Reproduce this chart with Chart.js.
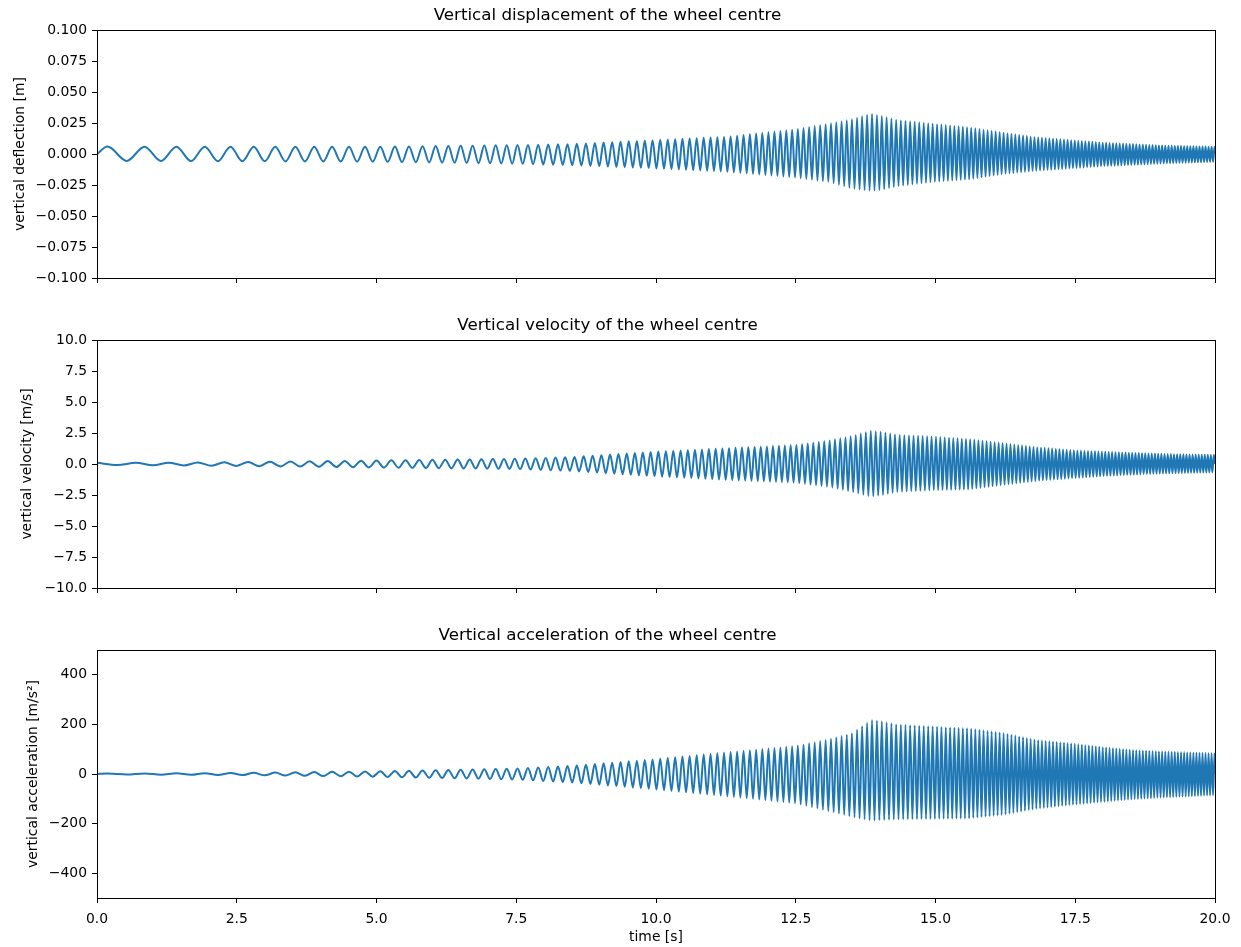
<!DOCTYPE html>
<html>
<head>
<meta charset="utf-8">
<title>Wheel centre response</title>
<script src="https://cdn.jsdelivr.net/npm/chart.js@4.4.1/dist/chart.umd.min.js"></script>
<style>
  body { margin: 0; background: #fff; }
  #wrap { position: relative; width: 1241px; height: 947px; }
  canvas { position: absolute; left: 0; }
</style>
</head>
<body>
<div id="wrap">
  <canvas id="dispChart" width="1241" height="300" style="top:0px"></canvas>
  <canvas id="velChart" width="1241" height="300" style="top:310px"></canvas>
  <canvas id="accChart" width="1241" height="327" style="top:620px"></canvas>
</div>
<script>
// Envelope of the oscillation at these times [s]
const envTimes  = [0, 0.3, 2.5, 5, 7.5, 8.5, 10, 11.3, 12.5, 13.1, 13.5, 13.85, 14.05, 14.3, 15, 15.6, 16.2, 16.8, 17.4, 18, 18.5, 19.1, 20];

// displacement [m]
const dispUpper = [0.006, 0.006, 0.0058, 0.0058, 0.0072, 0.0080, 0.0113, 0.0140, 0.0200, 0.0245, 0.0280, 0.0325, 0.0305, 0.0275, 0.0242, 0.0215, 0.0172, 0.0134, 0.0113, 0.0091, 0.0081, 0.0067, 0.0058];
const dispLower = [-0.0055, -0.0055, -0.0058, -0.0062, -0.0078, -0.0090, -0.0116, -0.0143, -0.0190, -0.0225, -0.0277, -0.0298, -0.0288, -0.0260, -0.0223, -0.0204, -0.0161, -0.0134, -0.0116, -0.0097, -0.0089, -0.0075, -0.0062];

// velocity [m/s]
const velUpper = [0.1, 0.08, 0.15, 0.28, 0.42, 0.56, 1.0, 1.28, 1.53, 1.9, 2.26, 2.69, 2.58, 2.36, 2.2, 2.0, 1.67, 1.35, 1.13, 0.99, 0.91, 0.81, 0.73];
const velLower = [-0.05, -0.08, -0.15, -0.28, -0.40, -0.56, -1.0, -1.28, -1.5, -1.85, -2.23, -2.63, -2.5, -2.25, -2.1, -2.04, -1.69, -1.35, -1.16, -0.97, -0.86, -0.75, -0.67];

// acceleration [m/s^2]
const accUpper = [1, 2, 4, 11, 22, 33, 60, 88, 113, 140, 164, 218, 212, 200, 191, 184, 166, 137, 124, 108, 97, 90, 83];
const accLower = [-1, -2, -4, -11, -22, -34, -62, -90, -118, -150, -172, -188, -186, -183, -181, -179, -165, -140, -125, -112, -102, -94, -85];

// oscillation rate [Hz] read from the spacing of the peaks
const freqTimes  = [0, 1, 2, 3, 4, 5, 6, 7, 8, 9, 10, 11, 12, 13, 14, 15, 16, 17, 18, 19, 20];
const freqValues = [1.3, 1.7, 2.1, 2.6, 3.1, 3.7, 4.3, 4.9, 5.6, 6.4, 7.3, 8.2, 9.2, 10.3, 11.5, 12.7, 13.9, 15.1, 16.3, 17.5, 18.7];

// tick positions
const xTicks    = [0, 2.5, 5, 7.5, 10, 12.5, 15, 17.5, 20];
const dispTicks = [-0.1, -0.075, -0.05, -0.025, 0, 0.025, 0.05, 0.075, 0.1];
const velTicks  = [-10, -7.5, -5, -2.5, 0, 2.5, 5, 7.5, 10];
const accTicks  = [-400, -200, 0, 200, 400];

const lineColor = '#1f77b4';
const fontFamily = "'DejaVu Sans', sans-serif";

Chart.defaults.color = '#000';
Chart.defaults.font.family = fontFamily;

function lookup(xs, ys, t) {
    if (t <= xs[0]) return ys[0];
    for (let i = 1; i < xs.length; i++) {
        if (t <= xs[i]) {
            const r = (t - xs[i - 1]) / (xs[i] - xs[i - 1]);
            return ys[i - 1] + r * (ys[i] - ys[i - 1]);
        }
    }
    return ys[ys.length - 1];
}

// peaks and troughs of the trace, alternating between the two envelopes
function buildTrace(upper, lower, phaseShift) {
    const pts = [];
    const dt = 0.0005;
    let t = 0, ph = phaseShift, k = 0;
    if (phaseShift < 0.25) pts.push({ x: 0, y: 0 });
    while (t <= 20) {
        const target = 0.25 + 0.5 * k;
        if (ph >= target - 1e-9) {
            const y = k % 2 === 0 ? lookup(envTimes, upper, t) : lookup(envTimes, lower, t);
            pts.push({ x: t, y: y });
            k++;
            continue;
        }
        ph += lookup(freqTimes, freqValues, t) * dt;
        t += dt;
    }
    pts.push({ x: 20, y: 0 });
    return pts;
}

function fmt(v, dec) {
    if (Math.abs(v) < 1e-9) v = 0;
    return v.toFixed(dec).replace('-', '\u2212');
}

// black frame on all four sides like matplotlib spines
const framePlugin = {
    id: 'frame',
    afterDraw(chart) {
        const a = chart.chartArea;
        const ctx = chart.ctx;
        ctx.save();
        ctx.strokeStyle = '#000';
        ctx.lineWidth = 1;
        ctx.strokeRect(Math.round(a.left) + 0.5, Math.round(a.top) + 0.5,
                       Math.round(a.right - a.left), Math.round(a.bottom - a.top));
        ctx.restore();
    }
};

function makePanel(id, title, yLabel, yMin, yMax, yTicks, dec, points, bottomAxis, titlePad) {
    const ctx = document.getElementById(id).getContext('2d');
    return new Chart(ctx, {
        type: 'line',
        data: {
            datasets: [{
                data: points,
                borderColor: lineColor,
                borderWidth: 2,
                pointRadius: 0,
                fill: false,
                cubicInterpolationMode: 'monotone'
            }]
        },
        options: {
            responsive: false,
            animation: false,
            parsing: false,
            normalized: true,
            layout: { padding: { left: 0, right: 26, top: 0, bottom: 0 } },
            plugins: {
                legend: { display: false },
                tooltip: { enabled: false },
                title: {
                    display: true,
                    text: title,
                    color: '#000',
                    font: { family: fontFamily, size: 16.7, weight: 'normal' },
                    padding: { top: 6, bottom: 4 }
                }
            },
            scales: {
                x: {
                    type: 'linear',
                    min: 0,
                    max: 20,
                    afterBuildTicks: s => { s.ticks = xTicks.map(v => ({ value: v })); },
                    afterFit: s => { s.height = bottomAxis ? 49 : 22; },
                    border: { color: '#000', width: 1 },
                    grid: { drawOnChartArea: false, drawTicks: true, tickLength: 5, color: '#000' },
                    ticks: {
                        display: bottomAxis,
                        autoSkip: false,
                        maxRotation: 0,
                        padding: 8,
                        font: { size: 13.9 },
                        callback: v => v.toFixed(1)
                    },
                    title: {
                        display: bottomAxis,
                        text: 'time [s]',
                        font: { size: 13.9 },
                        padding: { top: 0, bottom: 1 }
                    }
                },
                y: {
                    type: 'linear',
                    min: yMin,
                    max: yMax,
                    afterBuildTicks: s => { s.ticks = yTicks.map(v => ({ value: v })); },
                    afterFit: s => { s.width = 97; },
                    border: { color: '#000', width: 1 },
                    grid: { drawOnChartArea: false, drawTicks: true, tickLength: 5, color: '#000' },
                    ticks: {
                        autoSkip: false,
                        padding: 5,
                        font: { size: 13.9 },
                        callback: v => fmt(v, dec)
                    },
                    title: {
                        display: true,
                        text: yLabel,
                        font: { size: 13.9 },
                        padding: { top: titlePad, bottom: 0 }
                    }
                }
            }
        },
        plugins: [framePlugin]
    });
}

document.addEventListener('DOMContentLoaded', () => {
    makePanel('dispChart', 'Vertical displacement of the wheel centre', 'vertical deflection [m]',
        -0.1, 0.1, dispTicks, 3, buildTrace(dispUpper, dispLower, 0), false, 12);
    makePanel('velChart', 'Vertical velocity of the wheel centre', 'vertical velocity [m/s]',
        -10, 10, velTicks, 1, buildTrace(velUpper, velLower, 0.25), false, 19);
    makePanel('accChart', 'Vertical acceleration of the wheel centre', 'vertical acceleration [m/s\u00b2]',
        -500, 500, accTicks, 0, buildTrace(accUpper, accLower, 0), true, 25);
});
</script>
</body>
</html>
